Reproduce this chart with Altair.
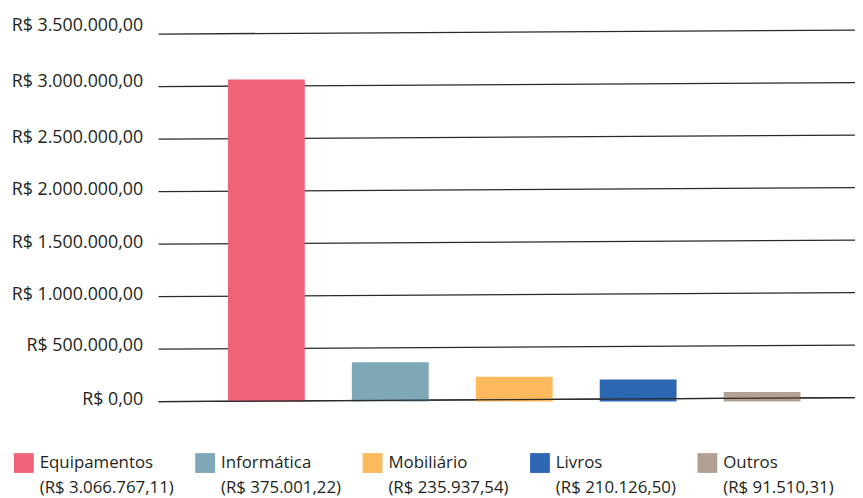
import altair as alt
import pandas as pd

categories = ["Equipamentos", "Informática", "Mobiliário", "Livros", "Outros"]
values = [3066767.11, 375001.22, 235937.54, 210126.50, 91510.31]
colors = ["#f06277", "#7ea7b7", "#fdb95b", "#2d67b1", "#b2a092"]
tick_values = [0, 500000, 1000000, 1500000, 2000000, 2500000, 3000000, 3500000]


def brl(v):
    s = f"{v:,.2f}".replace(",", "X").replace(".", ",").replace("X", ".")
    return "R$ " + s


legend_labels = [f"{c}|({brl(v)})" for c, v in zip(categories, values)]

df = pd.DataFrame({"categoria": categories, "valor": values, "legenda": legend_labels})
grid_df = pd.DataFrame({"tick": tick_values})
zero_df = pd.DataFrame({"tick": tick_values[:1]})

W, H = 703, 371
FONT = "Open Sans"
TXT = "#231f20"

yscale = alt.Scale(domain=[0, 3500000], nice=False)

grid = alt.Chart(grid_df).mark_rule(color="#2a2a2a", strokeWidth=1.3, y2Offset=-4).encode(
    y=alt.Y(
        "tick:Q",
        scale=yscale,
        axis=alt.Axis(
            values=tick_values,
            format="$,.2f",
            title=None,
            grid=False,
            domain=False,
            ticks=False,
            tickSize=0,
            labelPadding=16,
            labelFont=FONT,
            labelFontSize=18,
            labelColor=TXT,
            labelOffset={"expr": "datum.value == 3500000 ? -9 : datum.value == 3000000 ? -5 : datum.value == 500000 ? -4 : -2"},
        ),
    ),
    y2=alt.Y2("tick:Q"),
    x=alt.value(0),
    x2=alt.value(W),
)

bars = alt.Chart(df).mark_bar().encode(
    x=alt.X(
        "categoria:N",
        scale=alt.Scale(domain=categories, range=[70, 648], paddingInner=0.38, paddingOuter=0),
        axis=None,
    ),
    y=alt.Y("valor:Q", scale=yscale),
    color=alt.Color(
        "legenda:N",
        scale=alt.Scale(domain=legend_labels, range=colors),
        legend=alt.Legend(
            title=None,
            orient="none",
            legendX=-146,
            legendY=423,
            direction="horizontal",
            columns=5,
            symbolType="square",
            symbolSize=400,
            symbolStrokeWidth=0,
            symbolOpacity=1,
            labelFont=FONT,
            labelFontSize=17,
            labelColor=TXT,
            labelExpr="split(datum.label, '|')",
            labelBaseline="middle",
            labelLimit=0,
            labelOffset=6,
            columnPadding=21,
            padding=0,
        ),
    ),
)

zero = alt.Chart(zero_df).mark_rule(color="#2a2a2a", strokeWidth=1.3, y2Offset=-4).encode(
    y=alt.Y("tick:Q", scale=yscale),
    y2=alt.Y2("tick:Q"),
    x=alt.value(0),
    x2=alt.value(W),
)

chart = (
    alt.layer(grid, bars, zero)
    .properties(
        width=W,
        height=H,
        padding={"left": 152, "top": 24, "right": 0, "bottom": 95},
        autosize=alt.AutoSizeParams(type="none"),
    )
    .configure(
        locale={"number": {"decimal": ",", "thousands": ".", "grouping": [3], "currency": ["R$ ", ""]}},
        style={"guide-label": {"lineHeight": 25}},
    )
    .configure_view(stroke=None)
)

chart.save("out.html", embed_options={"renderer": "svg", "actions": False})
